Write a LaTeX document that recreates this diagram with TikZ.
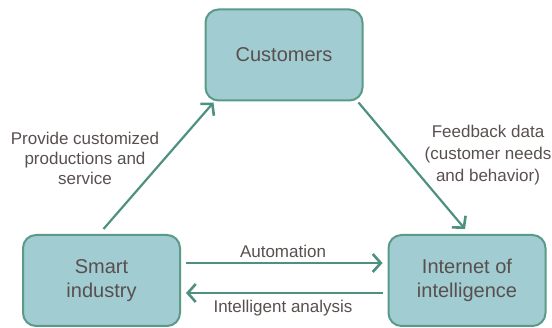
\documentclass[tikz,border=0pt]{standalone}
\usepackage{fontspec}
\setmainfont{Liberation Sans}
\usetikzlibrary{arrows.meta}
\definecolor{boxfill}{HTML}{A0CCD2}
\definecolor{boxline}{HTML}{5A9A87}
\definecolor{arrcol}{HTML}{4E9180}
\definecolor{txt}{HTML}{594F4F}
\tikzset{
  box/.style={draw=boxline, line width=2pt, fill=boxfill, rounded corners=13pt,
    minimum width=157pt, minimum height=91pt, align=center, text=txt,
    font=\fontsize{20}{24}\selectfont, inner sep=0pt},
  arr/.style={draw=arrcol, line width=2.2pt, -{Straight Barb[length=8pt,width=18pt,line width=2.6pt]}},
  lbl/.style={text=txt, align=center, font=\fontsize{17}{21}\selectfont, inner sep=0pt}
}
\begin{document}
\begin{tikzpicture}[x=1pt,y=-1pt]
\useasboundingbox (0,0) rectangle (552,328);
\node[box] (cu) at (284,55) {Customers};
\node[box] (sm) at (101.5,280.5) {Smart\\industry};
\node[box] (ii) at (467,280.5) {Internet of\\intelligence};
\draw[arr] ([shift={(5,-17.5)}]sm.east) -- ([shift={(-5,-17.5)}]ii.west);
\draw[arr] ([shift={(-5,12.5)}]ii.west) -- ([shift={(5,12.5)}]sm.east);
\draw[arr] ([shift={(2,-5)}]sm.north) -- ([shift={(9,1)}]cu.south west);
\draw[arr] ([shift={(-5,1)}]cu.south east) -- ([shift={(-2,-5)}]ii.north);
\node[lbl] (la) at (283,251) {Automation};
\node[lbl] (lb) at (283,308) {Intelligent analysis};
\node[lbl, font=\fontsize{17}{20}\selectfont] (lc) at (85,158) {Provide customized\\productions and\\service};
\node[lbl, font=\fontsize{17}{22}\selectfont] (ld) at (488,155) {Feedback data\\(customer needs\\and behavior)};
\end{tikzpicture}
\end{document}
